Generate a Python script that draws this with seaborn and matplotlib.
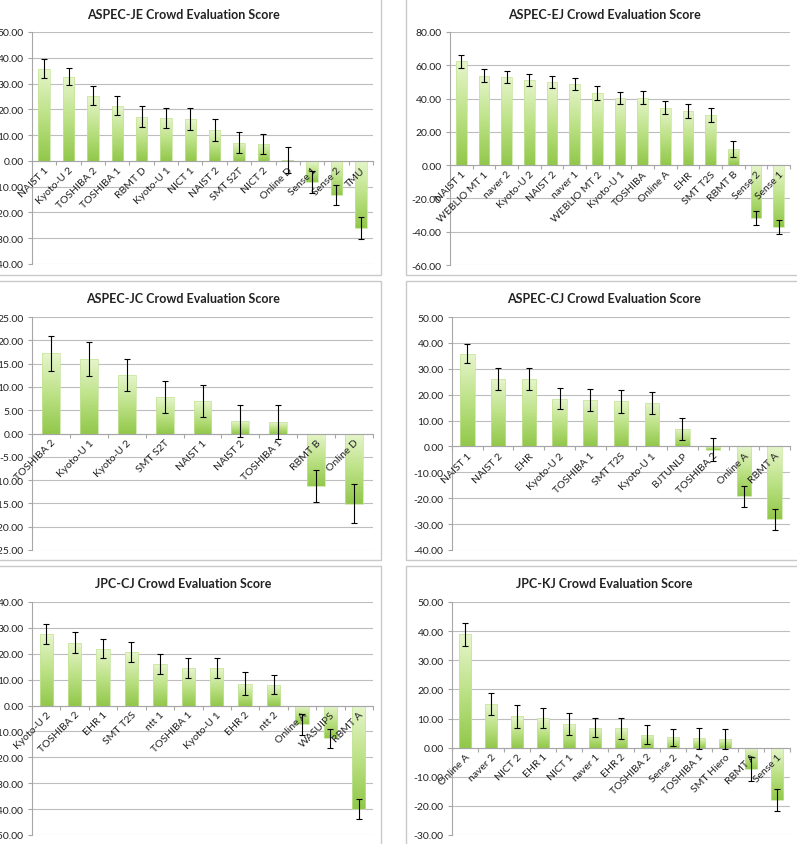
import numpy as np
import seaborn as sns
import matplotlib
matplotlib.use("Agg")
import matplotlib.pyplot as plt
from matplotlib.patches import Rectangle
from matplotlib.colors import LinearSegmentedColormap

# ASPEC-JE
je_labels = ["NAIST 1", "Kyoto-U 2", "TOSHIBA 2", "TOSHIBA 1", "RBMT D", "Kyoto-U 1", "NICT 1",
             "NAIST 2", "SMT S2T", "NICT 2", "Online D", "Sense 1", "Sense 2", "TMU"]
je_scores = [35.8, 32.7, 25.2, 21.4, 17.1, 16.8, 16.2, 12.0, 7.1, 6.7, 0.3, -8.1, -13.3, -26.0]
je_err = [3.6, 3.4, 3.7, 3.6, 4.1, 3.9, 4.4, 4.2, 4.1, 3.9, 5.0, 4.2, 4.0, 4.3]

# ASPEC-EJ
ej_labels = ["NAIST 1", "WEBLIO MT 1", "naver 2", "Kyoto-U 2", "NAIST 2", "naver 1", "WEBLIO MT 2",
             "Kyoto-U 1", "TOSHIBA", "Online A", "EHR", "SMT T2S", "RBMT B", "Sense 2", "Sense 1"]
ej_scores = [62.4, 53.8, 53.2, 51.0, 49.8, 48.6, 43.4, 40.6, 40.4, 34.5, 32.5, 30.1, 9.8, -31.7, -37.1]
ej_err = [3.8, 4.0, 3.6, 3.7, 3.6, 3.6, 4.0, 3.6, 3.9, 3.8, 4.0, 4.0, 4.8, 4.1, 4.1]

# ASPEC-JC
jc_labels = ["TOSHIBA 2", "Kyoto-U 1", "Kyoto-U 2", "SMT S2T", "NAIST 1", "NAIST 2", "TOSHIBA 1",
             "RBMT B", "Online D"]
jc_scores = [17.2, 16.0, 12.5, 7.8, 7.0, 2.7, 2.5, -11.3, -15.1]
jc_err = [3.7, 3.6, 3.4, 3.4, 3.5, 3.4, 3.7, 3.5, 4.2]

# ASPEC-CJ
cj_labels = ["NAIST 1", "NAIST 2", "EHR", "Kyoto-U 2", "TOSHIBA 1", "SMT T2S", "Kyoto-U 1",
             "BJTUNLP", "TOSHIBA 2", "Online A", "RBMT A"]
cj_scores = [35.9, 26.0, 26.0, 18.5, 18.0, 17.4, 16.9, 6.6, -1.2, -19.3, -28.2]
cj_err = [3.5, 4.2, 4.2, 4.1, 4.2, 4.4, 4.2, 4.3, 4.4, 4.1, 4.2]

# JPC-CJ
pcj_labels = ["Kyoto-U 2", "TOSHIBA 2", "EHR 1", "SMT T2S", "ntt 1", "TOSHIBA 1", "Kyoto-U 1",
              "EHR 2", "ntt 2", "Online A", "WASUIPS", "RBMT A"]
pcj_scores = [27.7, 24.3, 22.0, 20.7, 16.2, 14.5, 14.5, 8.4, 8.0, -7.3, -12.7, -40.0]
pcj_err = [3.8, 4.1, 3.8, 3.9, 3.9, 3.9, 3.9, 4.4, 3.7, 4.2, 3.7, 4.0]

# JPC-KJ
pkj_labels = ["Online A", "naver 2", "NICT 2", "EHR 1", "NICT 1", "naver 1", "EHR 2", "TOSHIBA 2",
              "Sense 2", "TOSHIBA 1", "SMT Hiero", "RBMT A", "Sense 1"]
pkj_scores = [38.9, 14.9, 10.8, 10.3, 8.2, 6.9, 6.6, 4.5, 3.5, 3.2, 2.9, -7.4, -18.1]
pkj_err = [4.0, 3.7, 3.9, 3.4, 3.7, 3.2, 3.7, 3.3, 2.9, 3.7, 3.4, 4.1, 3.8]

sns.set_style("white")
plt.rcParams["font.family"] = ["Lato", "DejaVu Sans"]
plt.rcParams["axes.unicode_minus"] = False

W, H = 797, 845
fig = plt.figure(figsize=(W / 100, H / 100), dpi=100)
bar_cmap = LinearSegmentedColormap.from_list("excel_green", ["#92c84b", "#bde287", "#e6f5cb"])
grad = np.linspace(0, 1, 64).reshape(-1, 1)


def panel_box(l, t, r, b):
    fig.add_artist(Rectangle((l / W, 1 - b / H), (r - l) / W, (b - t) / H, transform=fig.transFigure,
                             fill=False, edgecolor="#c9c9c9", linewidth=1.0))


def draw_panel(plot_px, title, title_px, labels, scores, errs, ylim, step):
    l, t, r, b = plot_px
    ax = fig.add_axes([l / W, 1 - b / H, (r - l) / W, (b - t) / H])
    sns.barplot(x=labels, y=scores, ax=ax, color="#a8d468", width=0.47, errorbar=None)
    n = len(labels)
    # gradient fill clipped to each bar
    for patch in ax.patches:
        x0, y0 = patch.get_xy()
        w, h = patch.get_width(), patch.get_height()
        lo, hi = min(y0, y0 + h), max(y0, y0 + h)
        im = ax.imshow(grad, extent=[x0, x0 + w, lo, hi], origin="lower", cmap=bar_cmap,
                       aspect="auto", zorder=2, interpolation="bicubic")
        im.set_clip_path(patch)
        patch.set_facecolor("none")
        patch.set_edgecolor("#c5e49a")
        patch.set_linewidth(0.5)
        patch.set_zorder(2.5)
    ax.errorbar(np.arange(n), scores, yerr=errs, fmt="none", ecolor="black",
                elinewidth=0.8, capsize=2.2, capthick=0.8, zorder=3)
    ax.set_xlim(-0.5, n - 0.5)
    ax.set_ylim(*ylim)
    yticks = np.arange(ylim[0], ylim[1] + step / 2, step)
    ax.set_yticks(yticks)
    ax.yaxis.set_major_formatter(matplotlib.ticker.FormatStrFormatter("%.2f"))
    # gridlines behind the bars, axis (and category labels) on top
    for yv in yticks:
        ax.axhline(yv, color="#bdbdbd", linewidth=0.8, zorder=0.5)
    ax.set_axisbelow(False)
    for s in ["top", "right"]:
        ax.spines[s].set_visible(False)
    ax.spines["left"].set_color("#a6a6a6")
    ax.spines["left"].set_linewidth(0.8)
    ax.spines["bottom"].set_position(("data", 0))
    ax.spines["bottom"].set_color("#a6a6a6")
    ax.spines["bottom"].set_linewidth(0.8)
    ax.tick_params(axis="y", which="major", direction="out", length=3, width=0.8,
                   color="#a6a6a6", labelsize=7.5, labelcolor="#222222", pad=3, left=True)
    ax.set_xticks(np.arange(n))
    ax.set_xticks(np.arange(n + 1) - 0.5, minor=True)
    ax.set_xticklabels(labels, rotation=45, ha="right", rotation_mode="anchor")
    ax.tick_params(axis="x", which="major", length=0, labelsize=7.5, labelcolor="#222222", pad=3)
    ax.tick_params(axis="x", which="minor", direction="out", length=3, width=0.8,
                   color="#a6a6a6", bottom=True)
    ax.set_xlabel("")
    ax.set_ylabel("")
    fig.text(title_px[0] / W, 1 - title_px[1] / H, title, ha="center", va="center",
             fontsize=9, fontweight="bold", color="#222222")
    return ax


# panel frames
panel_box(-20, -5, 381, 276)
panel_box(406, -5, 830, 276)
panel_box(-20, 282, 381, 561)
panel_box(406, 282, 830, 561)
panel_box(-20, 567, 381, 860)
panel_box(406, 567, 830, 860)

draw_panel((32, 33, 373, 265), "ASPEC-JE Crowd Evaluation Score", (183, 15),
           je_labels, je_scores, je_err, (-40, 50), 10)
draw_panel((450, 33, 790, 266), "ASPEC-EJ Crowd Evaluation Score", (604, 15),
           ej_labels, ej_scores, ej_err, (-60, 80), 20)
draw_panel((32, 318, 373, 551), "ASPEC-JC Crowd Evaluation Score", (183, 299),
           jc_labels, jc_scores, jc_err, (-25, 25), 5)
draw_panel((452, 318, 790, 551), "ASPEC-CJ Crowd Evaluation Score", (604, 299),
           cj_labels, cj_scores, cj_err, (-40, 50), 10)
draw_panel((32, 603, 373, 836), "JPC-CJ Crowd Evaluation Score", (183, 584),
           pcj_labels, pcj_scores, pcj_err, (-50, 40), 10)
draw_panel((452, 603, 790, 836), "JPC-KJ Crowd Evaluation Score", (604, 584),
           pkj_labels, pkj_scores, pkj_err, (-30, 50), 10)

fig.savefig("out.png", dpi=100, facecolor="white")
